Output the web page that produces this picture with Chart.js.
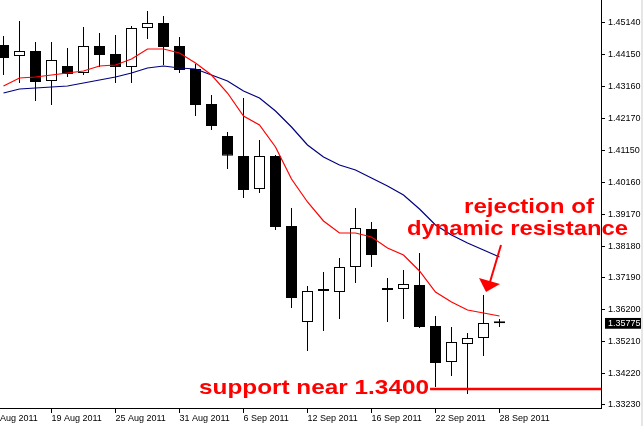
<!DOCTYPE html>
<html>
<head>
<meta charset="utf-8">
<script src="https://cdn.jsdelivr.net/npm/chart.js@4.4.1/dist/chart.umd.min.js"></script>
<style>
    html, body { margin: 0; padding: 0; background: #fff; overflow: hidden; }
    canvas { display: block; }
</style>
</head>
<body>
<canvas id="eurusdChart" width="643" height="426"></canvas>
<script>
// EUR/USD daily candles, 16 Aug - 28 Sep 2011
const days = ['16 Aug', '17 Aug', '18 Aug', '19 Aug', '22 Aug', '23 Aug', '24 Aug', '25 Aug',
    '26 Aug', '29 Aug', '30 Aug', '31 Aug', '1 Sep', '2 Sep', '5 Sep', '6 Sep',
    '7 Sep', '8 Sep', '9 Sep', '12 Sep', '13 Sep', '14 Sep', '15 Sep', '16 Sep',
    '19 Sep', '20 Sep', '21 Sep', '22 Sep', '23 Sep', '26 Sep', '27 Sep', '28 Sep'];

const opens = [1.44454, 1.44111, 1.44267, 1.43332, 1.43799, 1.43581, 1.44423, 1.44173,
    1.43768, 1.44984, 1.45140, 1.44423, 1.43706, 1.42614, 1.41617, 1.40993,
    1.39964, 1.40993, 1.38811, 1.35818, 1.36815, 1.36753, 1.37532, 1.38717,
    1.36878, 1.36847, 1.36971, 1.35693, 1.34571, 1.35132, 1.35319, 1.35786];
const highs = [1.44735, 1.45202, 1.44548, 1.44548, 1.44360, 1.45015, 1.44828, 1.44766,
    1.45046, 1.45514, 1.45358, 1.44703, 1.43862, 1.42895, 1.41742, 1.42802,
    1.41492, 1.41024, 1.39372, 1.36940, 1.37377, 1.37813, 1.39372, 1.38935,
    1.37190, 1.37439, 1.37969, 1.36005, 1.35662, 1.35475, 1.36659, 1.35911];
const lows = [1.43519, 1.43269, 1.42708, 1.42583, 1.43456, 1.43519, 1.43768, 1.43269,
    1.43269, 1.44641, 1.43830, 1.43581, 1.42240, 1.41804, 1.40588, 1.39684,
    1.39840, 1.38686, 1.36254, 1.34914, 1.35537, 1.35911, 1.37034, 1.37532,
    1.35818, 1.35911, 1.35631, 1.33791, 1.34134, 1.33573, 1.34758, 1.35662];
const closes = [1.44049, 1.44267, 1.43300, 1.43986, 1.43550, 1.44423, 1.44142, 1.43768,
    1.44984, 1.45140, 1.44392, 1.43675, 1.42583, 1.41929, 1.41003, 1.39933,
    1.40993, 1.38780, 1.36566, 1.36784, 1.36784, 1.37532, 1.38748, 1.37907,
    1.36815, 1.37002, 1.35662, 1.34539, 1.35194, 1.35319, 1.35786, 1.35775];

// moving averages (red = fast, blue = slow)
const maFast = [1.43176, 1.43425, 1.43456, 1.43519, 1.43581, 1.43643, 1.43799, 1.43830,
    1.44017, 1.44329, 1.44329, 1.44205, 1.43893, 1.43519, 1.42957, 1.42240,
    1.41960, 1.41274, 1.40276, 1.39559, 1.38967, 1.38593, 1.38593, 1.38468,
    1.38125, 1.37907, 1.37408, 1.36753, 1.36441, 1.36192, 1.36098, 1.36005];
const maSlow = [1.42957, 1.43082, 1.43113, 1.43145, 1.43176, 1.43269, 1.43363, 1.43456,
    1.43581, 1.43737, 1.43799, 1.43737, 1.43706, 1.43519, 1.43332, 1.43020,
    1.42802, 1.42396, 1.41897, 1.41336, 1.40962, 1.40713, 1.40557, 1.40307,
    1.40058, 1.39777, 1.39341, 1.38842, 1.38530, 1.38281, 1.38062, 1.37844];

const yTicks = [1.45140, 1.44150, 1.43160, 1.42170, 1.41150, 1.40160, 1.39170,
    1.38180, 1.37190, 1.36200, 1.35210, 1.34220, 1.33230];
const xTickIdx = [-1, 3, 7, 11, 15, 19, 23, 27, 31];
const xTickLabels = ['15 Aug 2011', '19 Aug 2011', '25 Aug 2011', '31 Aug 2011', '6 Sep 2011',
    '12 Sep 2011', '16 Sep 2011', '22 Sep 2011', '28 Sep 2011'];

const supportLevel = 1.3373;
const lastClose = closes[closes.length - 1];

const tickFont = { family: '"Liberation Sans", Arial, sans-serif', size: 9 };

function wideText(c, text, x, y, w) {
    const m = c.measureText(text).width;
    c.save();
    c.translate(x, y);
    c.scale(w / m, 1);
    c.fillText(text, 0, 0);
    c.restore();
}

// red hand-drawn notes on top of the chart
const notes = {
    id: 'notes',
    afterDraw(chart) {
        const c = chart.ctx;
        c.save();
        c.fillStyle = '#ff0000';
        c.strokeStyle = '#ff0000';
        c.font = 'bold 21px "Liberation Sans", Arial, sans-serif';
        c.textBaseline = 'alphabetic';
        wideText(c, 'rejection of', 464, 213, 130);
        wideText(c, 'dynamic resistance', 407, 235, 221);
        wideText(c, 'support near 1.3400', 199, 394, 230);

        c.lineWidth = 2;
        c.beginPath();
        c.moveTo(501, 245);
        c.lineTo(490, 282);
        c.stroke();
        c.beginPath();
        c.moveTo(479, 278);
        c.lineTo(500, 284);
        c.lineTo(486, 292);
        c.closePath();
        c.fill();

        c.fillStyle = '#e6e6e6';
        c.fillRect(641, 0, 2, 426);
        c.restore();
    }
};

const ctx = document.getElementById('eurusdChart').getContext('2d');

new Chart(ctx, {
    type: 'bar',
    data: {
        datasets: [
            {
                type: 'line',
                label: 'MA fast',
                data: maFast.map((v, i) => ({ x: i, y: v })),
                borderColor: '#ff0000',
                borderWidth: 1.2,
                pointRadius: 0,
                tension: 0,
                order: 1
            },
            {
                type: 'line',
                label: 'MA slow',
                data: maSlow.map((v, i) => ({ x: i, y: v })),
                borderColor: '#000080',
                borderWidth: 1.2,
                pointRadius: 0,
                tension: 0,
                order: 1
            },
            {
                type: 'line',
                label: 'support',
                data: [{ x: 26.66, y: supportLevel }, { x: 38, y: supportLevel }],
                borderColor: '#ff0000',
                borderWidth: 2.5,
                pointRadius: 0,
                order: 0
            },
            {
                label: 'body',
                data: opens.map((o, i) => ({ x: i, y: [o, closes[i]] })),
                backgroundColor: opens.map((o, i) => closes[i] >= o ? '#ffffff' : '#000000'),
                borderColor: '#000000',
                borderWidth: 1,
                borderSkipped: false,
                inflateAmount: 0,
                barThickness: 11,
                minBarLength: 2,
                grouped: false,
                order: 2
            },
            {
                label: 'wick',
                data: lows.map((l, i) => ({ x: i, y: [l, highs[i]] })),
                backgroundColor: '#000000',
                borderWidth: 0,
                inflateAmount: 0,
                barThickness: 1,
                grouped: false,
                order: 3
            }
        ]
    },
    options: {
        responsive: false,
        animation: false,
        devicePixelRatio: 1,
        layout: { padding: 0 },
        plugins: {
            legend: { display: false },
            tooltip: { enabled: false }
        },
        scales: {
            x: {
                type: 'linear',
                position: 'bottom',
                min: -0.21875,
                max: 37.34375,
                offset: false,
                afterBuildTicks: s => { s.ticks = xTickIdx.map(v => ({ value: v })); },
                afterFit: s => { s.height = 18; s.paddingLeft = 0; s.paddingRight = 0; },
                grid: { offset: false, drawOnChartArea: false, drawTicks: true, tickLength: 5, tickColor: '#000' },
                border: { display: true, color: '#000', width: 1 },
                ticks: {
                    align: 'start',
                    padding: 0,
                    maxRotation: 0,
                    autoSkip: false,
                    color: '#000',
                    font: tickFont,
                    callback: v => xTickLabels[xTickIdx.indexOf(v)]
                }
            },
            y: {
                type: 'linear',
                position: 'right',
                min: 1.33136,
                max: 1.45857,
                beginAtZero: false,
                afterBuildTicks: s => {
                    s.ticks = yTicks.concat([lastClose]).sort((a, b) => a - b).map(v => ({ value: v }));
                },
                afterFit: s => { s.width = 42; s.paddingTop = 0; s.paddingBottom = 0; },
                grid: {
                    drawOnChartArea: false,
                    drawTicks: true,
                    tickLength: 4,
                    tickColor: c => (c.tick && c.tick.value === lastClose) ? 'rgba(0,0,0,0)' : '#000'
                },
                border: { display: true, color: '#000', width: 1 },
                ticks: {
                    padding: 3,
                    autoSkip: false,
                    font: tickFont,
                    color: c => (c.tick && c.tick.value === lastClose) ? '#fff' : '#000',
                    showLabelBackdrop: c => !!(c.tick && c.tick.value === lastClose),
                    backdropColor: '#000',
                    backdropPadding: { top: 0, bottom: 0, left: 3, right: 3 },
                    callback: v => v.toFixed(5)
                }
            }
        }
    },
    plugins: [notes]
});
</script>
</body>
</html>
